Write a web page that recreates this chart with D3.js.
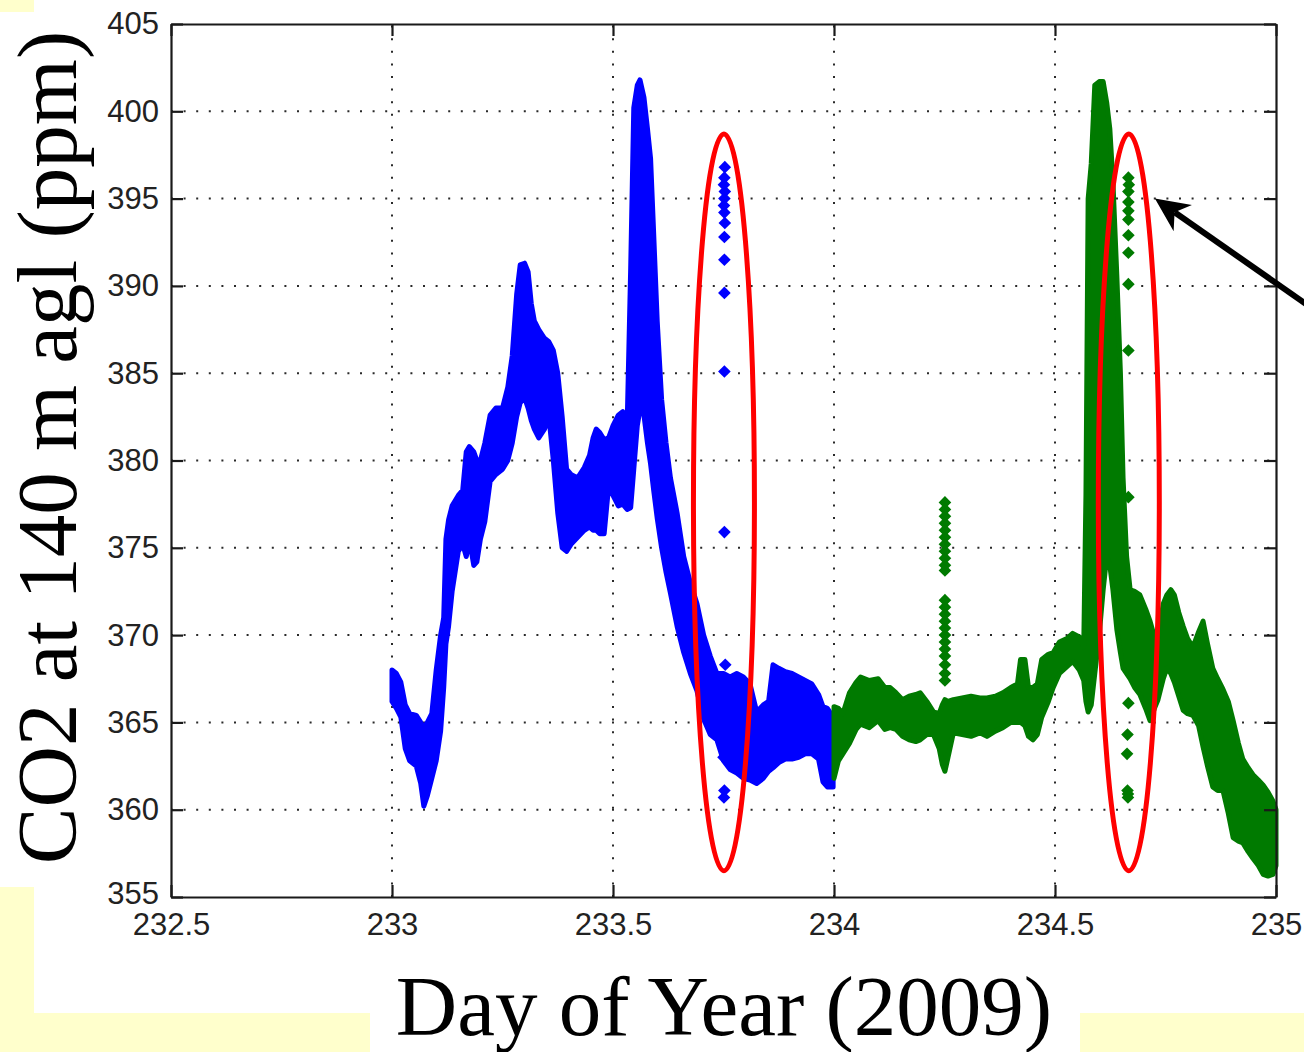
<!DOCTYPE html>
<html>
<head>
<meta charset="utf-8">
<script src="https://cdn.jsdelivr.net/npm/d3@7/dist/d3.min.js"></script>
<style>
  html, body { margin: 0; padding: 0; background: #ffffff; }
  svg { display: block; }
</style>
</head>
<body>
<svg id="chart" width="1304" height="1052"></svg>
<script>
// ---- axis ticks ----
const xTicks = [232.5, 233, 233.5, 234, 234.5, 235];
const xTickLabels = ["232.5", "233", "233.5", "234", "234.5", "235"];
const yTicks = [355, 360, 365, 370, 375, 380, 385, 390, 395, 400, 405];
const yTickLabels = ["355", "360", "365", "370", "375", "380", "385", "390", "395", "400", "405"];

// ---- day 233 (blue): spread of CO2 samples per time step, ppm ----
const blueDay = [233.000, 233.010, 233.020, 233.030, 233.040, 233.055, 233.065, 233.072, 233.080, 233.090,
  233.100, 233.110, 233.117, 233.122, 233.128, 233.136, 233.150, 233.160, 233.168, 233.175,
  233.185, 233.192, 233.200, 233.210, 233.222, 233.235, 233.250, 233.262, 233.272, 233.282,
  233.290, 233.300, 233.308, 233.315, 233.322, 233.332, 233.345, 233.355, 233.365, 233.375,
  233.385, 233.395, 233.405, 233.420, 233.435, 233.447, 233.455, 233.462, 233.470, 233.480,
  233.490, 233.500, 233.512, 233.522, 233.532, 233.540, 233.547, 233.555, 233.561, 233.570,
  233.578, 233.585, 233.592, 233.600, 233.610, 233.620, 233.630, 233.645, 233.660, 233.675,
  233.690, 233.705, 233.720, 233.735, 233.750, 233.765, 233.780, 233.795, 233.810, 233.825,
  233.840, 233.852, 233.862, 233.875, 233.890, 233.905, 233.920, 233.935, 233.950, 233.965,
  233.975, 233.985, 233.998];
const blueHi = [368.0, 367.8, 367.3, 366.0, 365.5, 365.4, 365.0, 364.7, 365.0, 365.5,
  368.0, 370.0, 371.0, 375.5, 376.6, 377.4, 378.0, 378.3, 380.5, 380.8,
  380.5, 380.0, 380.0, 381.0, 382.6, 383.0, 383.0, 384.2, 386.0, 389.5,
  391.2, 391.3, 390.8, 389.0, 388.0, 387.5, 387.0, 386.8, 386.3, 385.0,
  382.5, 379.5, 379.2, 379.0, 379.6, 380.3, 381.3, 381.8, 381.6, 381.2,
  381.3, 382.0, 382.6, 382.8, 382.0, 391.0, 400.2, 401.5, 401.8, 400.8,
  399.0, 397.3, 393.0, 388.0, 383.5, 381.0, 379.0, 377.0, 374.5, 373.0,
  371.8, 370.0, 368.8, 367.8, 367.8, 367.6, 367.8, 367.6, 367.2, 365.6,
  366.0, 366.2, 368.3, 368.1, 367.9, 367.8, 367.6, 367.4, 367.2, 366.6,
  365.9, 365.8, 365.3];
const blueLo = [366.2, 365.8, 365.3, 363.5, 362.8, 362.5, 361.5, 360.2, 360.8, 361.8,
  362.8, 364.5, 367.0, 369.5, 370.5, 372.5, 374.8, 375.2, 374.5, 375.5,
  374.0, 374.2, 375.5, 376.5, 378.8, 379.2, 379.5, 380.0, 381.0, 382.5,
  383.3, 383.6, 383.0, 382.3, 381.8, 381.3, 381.8, 382.5, 380.0, 377.0,
  375.0, 374.8, 375.2, 375.6, 376.0, 376.2, 376.0, 376.0, 375.8, 375.8,
  378.5, 378.0, 377.4, 377.5, 377.2, 377.3, 379.5, 382.0, 382.9, 382.6,
  381.0, 379.8, 378.3, 376.7, 375.0, 373.6, 372.4, 370.5, 369.0, 367.8,
  366.8, 365.2, 364.3, 364.0, 362.8, 362.3, 362.1, 361.8, 361.7, 361.5,
  361.8, 362.2, 362.4, 362.7, 362.9, 362.9, 363.0, 363.2, 363.2, 362.9,
  361.6, 361.3, 361.3];

// ---- day 234 (green) ----
const greenDay = [234.000, 234.010, 234.020, 234.035, 234.050, 234.060, 234.080, 234.100, 234.115, 234.127,
  234.140, 234.155, 234.170, 234.185, 234.195, 234.210, 234.225, 234.238, 234.245, 234.251,
  234.258, 234.270, 234.290, 234.310, 234.330, 234.346, 234.365, 234.382, 234.400, 234.415,
  234.422, 234.432, 234.440, 234.450, 234.460, 234.470, 234.485, 234.496, 234.510, 234.527,
  234.540, 234.555, 234.565, 234.570, 234.575, 234.582, 234.590, 234.600, 234.609, 234.617,
  234.624, 234.631, 234.640, 234.648, 234.654, 234.662, 234.670, 234.680, 234.692, 234.705,
  234.715, 234.725, 234.733, 234.745, 234.753, 234.762, 234.770, 234.780, 234.790, 234.800,
  234.812, 234.825, 234.835, 234.845, 234.857, 234.868, 234.880, 234.892, 234.903, 234.915,
  234.925, 234.937, 234.948, 234.960, 234.971, 234.982, 234.993, 235.000];
const greenHi = [365.9, 365.8, 365.5, 366.7, 367.3, 367.6, 367.4, 367.5, 367.0, 367.0,
  366.7, 366.3, 366.5, 366.6, 366.7, 366.2, 365.6, 365.5, 366.0, 366.3,
  366.2, 366.3, 366.4, 366.5, 366.4, 366.4, 366.5, 366.7, 367.0, 367.2,
  368.6, 368.6, 367.0, 367.0, 367.2, 368.6, 368.9, 369.0, 369.6, 369.8,
  370.1, 369.9, 369.3, 378.0, 395.0, 397.0, 401.5, 401.7, 401.7, 400.5,
  399.0, 396.0, 390.5, 385.0, 379.0, 374.5, 372.6, 372.5, 372.3, 371.5,
  370.8, 369.9, 369.8, 371.8, 372.3, 372.6, 372.3, 371.3, 370.5, 369.8,
  369.3, 370.2, 370.8, 369.5, 368.1, 367.5, 366.9, 366.2, 365.1, 363.8,
  362.9, 362.4, 362.0, 361.7, 361.4, 361.0, 360.5, 360.0];
const greenLo = [361.8, 362.8, 363.2, 363.8, 364.6, 364.9, 364.7, 365.1, 364.6, 364.7,
  364.6, 364.2, 364.0, 363.9, 364.0, 364.3, 364.3, 363.5, 362.6, 362.2,
  363.0, 364.4, 364.3, 364.2, 364.4, 364.2, 364.5, 364.7, 365.0, 365.0,
  365.0, 364.8, 364.2, 364.0, 364.3, 365.3, 366.2, 367.0, 367.8, 368.2,
  368.5, 368.0, 367.4, 366.2, 365.6, 366.0, 367.8, 370.0, 372.6, 374.5,
  374.0, 372.6, 370.3, 369.0, 368.1, 367.8, 367.5, 367.0, 366.6, 365.8,
  365.1, 365.8, 366.3, 367.5, 368.1, 367.8, 367.3, 366.5, 365.7, 365.5,
  365.4, 364.8, 363.6, 362.5, 361.3, 361.1, 361.1, 359.8, 358.4, 358.2,
  358.1, 357.6, 357.2, 356.8, 356.3, 356.2, 356.3, 356.8];

// ---- isolated samples ----
const blueSpotDay = [233.753, 233.752, 233.751, 233.753, 233.752, 233.751, 233.752, 233.753, 233.752, 233.752,
  233.752, 233.752, 233.752, 233.754, 233.748, 233.750, 233.752, 233.751];
const blueSpotCO2 = [396.8, 396.2, 395.8, 395.4, 395.0, 394.6, 394.2, 393.6, 392.8, 391.5,
  389.6, 385.1, 375.9, 368.3, 363.8, 363.0, 361.1, 360.7];
const greenSpotDay = [234.666, 234.667, 234.666, 234.666, 234.666, 234.666, 234.666, 234.666, 234.666, 234.666,
  234.666, 234.666, 234.664, 234.663, 234.664, 234.665, 234.665];
const greenSpotCO2 = [396.2, 395.8, 395.4, 394.8, 394.3, 393.8, 392.9, 391.9, 390.1, 386.3,
  377.9, 366.1, 364.3, 363.2, 361.1, 360.9, 360.7];
const greenSpikeDay = [234.251, 234.251, 234.251, 234.251, 234.251, 234.251, 234.251, 234.251, 234.251, 234.251,
  234.251, 234.251, 234.251, 234.251, 234.251, 234.251, 234.251, 234.251, 234.251, 234.251,
  234.251, 234.251, 234.251];
const greenSpikeCO2 = [377.6, 377.2, 376.8, 376.4, 376.0, 375.6, 375.2, 374.8, 374.4, 374.0,
  373.7, 372.0, 371.6, 371.2, 370.8, 370.4, 370.0, 369.6, 369.2, 368.8,
  368.3, 367.8, 367.4];

// ---- highlighted groups and arrow (data coordinates) ----
const ellipseDay = [233.751, 234.667];
const ellipseCO2 = [377.6, 377.6];
const ellipseHalfDay = [0.069, 0.069];
const ellipseHalfCO2 = [21.1, 21.1];
const arrowTip = [234.726, 395.0];
const arrowTail = [235.10, 388.4];

// ---- layout ----
const plot = { left: 171, right: 1276, top: 24, bottom: 897 };
const svg = d3.select("#chart");

const x = d3.scaleLinear().domain([232.5, 235]).range([plot.left, plot.right]);
const y = d3.scaleLinear().domain([355, 405]).range([plot.bottom, plot.top]);

// pale yellow slide background showing around the figure
const paper = "#ffffcc";
svg.append("rect").attr("x", 0).attr("y", 0).attr("width", 34).attr("height", 12).attr("fill", paper);
svg.append("rect").attr("x", 0).attr("y", 887).attr("width", 34).attr("height", 126).attr("fill", paper);
svg.append("rect").attr("x", 0).attr("y", 1013).attr("width", 370).attr("height", 39).attr("fill", paper);
svg.append("rect").attr("x", 1080).attr("y", 1013).attr("width", 224).attr("height", 39).attr("fill", paper);

// dotted grid
const grid = svg.append("g").attr("stroke", "#2a2a2a").attr("stroke-width", 2)
  .attr("stroke-dasharray", "2 10.6").attr("fill", "none");
xTicks.filter(t => t > 232.5 && t < 235).forEach(t => {
  grid.append("line").attr("x1", x(t)).attr("x2", x(t)).attr("y1", plot.bottom).attr("y2", plot.top);
});
yTicks.filter(t => t > 355 && t < 405).forEach(t => {
  grid.append("line").attr("y1", y(t)).attr("y2", y(t)).attr("x1", plot.left).attr("x2", plot.right);
});

// envelopes of the dense sample clouds
function band(days, hi, lo) {
  return days.map((d, i) => ({ d, hi: hi[i], lo: lo[i] }));
}
const area = d3.area().x(p => x(p.d)).y0(p => y(p.lo)).y1(p => y(p.hi));

const blue = "#0000ff", green = "#007a00";
svg.append("path").datum(band(blueDay, blueHi, blueLo)).attr("d", area)
  .attr("fill", blue).attr("stroke", blue).attr("stroke-width", 5).attr("stroke-linejoin", "round");
svg.append("path").datum(band(greenDay, greenHi, greenLo)).attr("d", area)
  .attr("fill", green).attr("stroke", green).attr("stroke-width", 5).attr("stroke-linejoin", "round");

// individual diamond markers
const diamond = d3.symbol().type(d3.symbolSquare).size(80);
function spots(days, vals, color) {
  svg.append("g").selectAll("path").data(days.map((d, i) => [d, vals[i]])).join("path")
    .attr("d", diamond)
    .attr("transform", p => `translate(${x(p[0])},${y(p[1])}) rotate(45)`)
    .attr("fill", color);
}
spots(blueSpotDay, blueSpotCO2, blue);
spots(greenSpotDay, greenSpotCO2, green);
spots(greenSpikeDay, greenSpikeCO2, green);

// axes box with inward ticks on all sides
const tickLen = 12;
const axisColor = "#1a1a1a";
const fmtX = d => xTickLabels[xTicks.indexOf(d)];
const fmtY = d => yTickLabels[yTicks.indexOf(d)];

const gx = svg.append("g").attr("transform", `translate(0,${plot.bottom})`)
  .call(d3.axisBottom(x).tickValues(xTicks).tickFormat(fmtX).tickSizeInner(-tickLen).tickSizeOuter(0).tickPadding(16));
const gxTop = svg.append("g").attr("transform", `translate(0,${plot.top})`)
  .call(d3.axisTop(x).tickValues(xTicks).tickFormat("").tickSizeInner(-tickLen).tickSizeOuter(0));
const gy = svg.append("g").attr("transform", `translate(${plot.left},0)`)
  .call(d3.axisLeft(y).tickValues(yTicks).tickFormat(fmtY).tickSizeInner(-tickLen).tickSizeOuter(0).tickPadding(12));
const gyRight = svg.append("g").attr("transform", `translate(${plot.right},0)`)
  .call(d3.axisRight(y).tickValues(yTicks).tickFormat("").tickSizeInner(-tickLen).tickSizeOuter(0));

[gx, gxTop, gy, gyRight].forEach(g => {
  g.select(".domain").attr("stroke", axisColor).attr("stroke-width", 2.2);
  g.selectAll(".tick line").attr("stroke", axisColor).attr("stroke-width", 2.2);
  g.selectAll("text").attr("fill", "#222").attr("font-family", "'Liberation Sans', Arial, sans-serif")
    .attr("font-size", 31);
});
// the lowest y label sits slightly raised so it clears the first x label
gy.selectAll(".tick text").filter(d => d === yTicks[0]).attr("y", -3);

// highlight ellipses
svg.append("g").selectAll("ellipse").data(ellipseDay.map((d, i) => i)).join("ellipse")
  .attr("cx", i => x(ellipseDay[i]))
  .attr("cy", i => y(ellipseCO2[i]))
  .attr("rx", i => x(ellipseDay[i] + ellipseHalfDay[i]) - x(ellipseDay[i]))
  .attr("ry", i => y(ellipseCO2[i] - ellipseHalfCO2[i]) - y(ellipseCO2[i]))
  .attr("fill", "none").attr("stroke", "#ff0000").attr("stroke-width", 5);

// pointer arrow
{
  const tx = x(arrowTip[0]), ty = y(arrowTip[1]);
  const sx = x(arrowTail[0]), sy = y(arrowTail[1]);
  const len = Math.hypot(sx - tx, sy - ty);
  const ux = (sx - tx) / len, uy = (sy - ty) / len;
  const px = -uy, py = ux;
  const headLen = 34, headHalf = 16, notch = 24;
  svg.append("line").attr("x1", tx + ux * notch).attr("y1", ty + uy * notch)
    .attr("x2", sx).attr("y2", sy).attr("stroke", "#000").attr("stroke-width", 6);
  const head = [
    [tx, ty],
    [tx + ux * headLen + px * headHalf, ty + uy * headLen + py * headHalf],
    [tx + ux * notch, ty + uy * notch],
    [tx + ux * headLen - px * headHalf, ty + uy * headLen - py * headHalf]
  ];
  svg.append("path").attr("d", d3.line()(head) + "Z").attr("fill", "#000");
}

// axis titles
svg.append("text")
  .attr("transform", `translate(76,${(plot.top + plot.bottom) / 2 - 13}) rotate(-90)`)
  .attr("text-anchor", "middle")
  .attr("font-family", "'Liberation Serif', 'Times New Roman', serif")
  .attr("font-size", 85).attr("fill", "#000")
  .text("CO2 at 140 m agl (ppm)");
svg.append("text")
  .attr("x", 724).attr("y", 1035)
  .attr("text-anchor", "middle")
  .attr("font-family", "'Liberation Serif', 'Times New Roman', serif")
  .attr("font-size", 85).attr("fill", "#000")
  .text("Day of Year (2009)");
</script>
</body>
</html>
